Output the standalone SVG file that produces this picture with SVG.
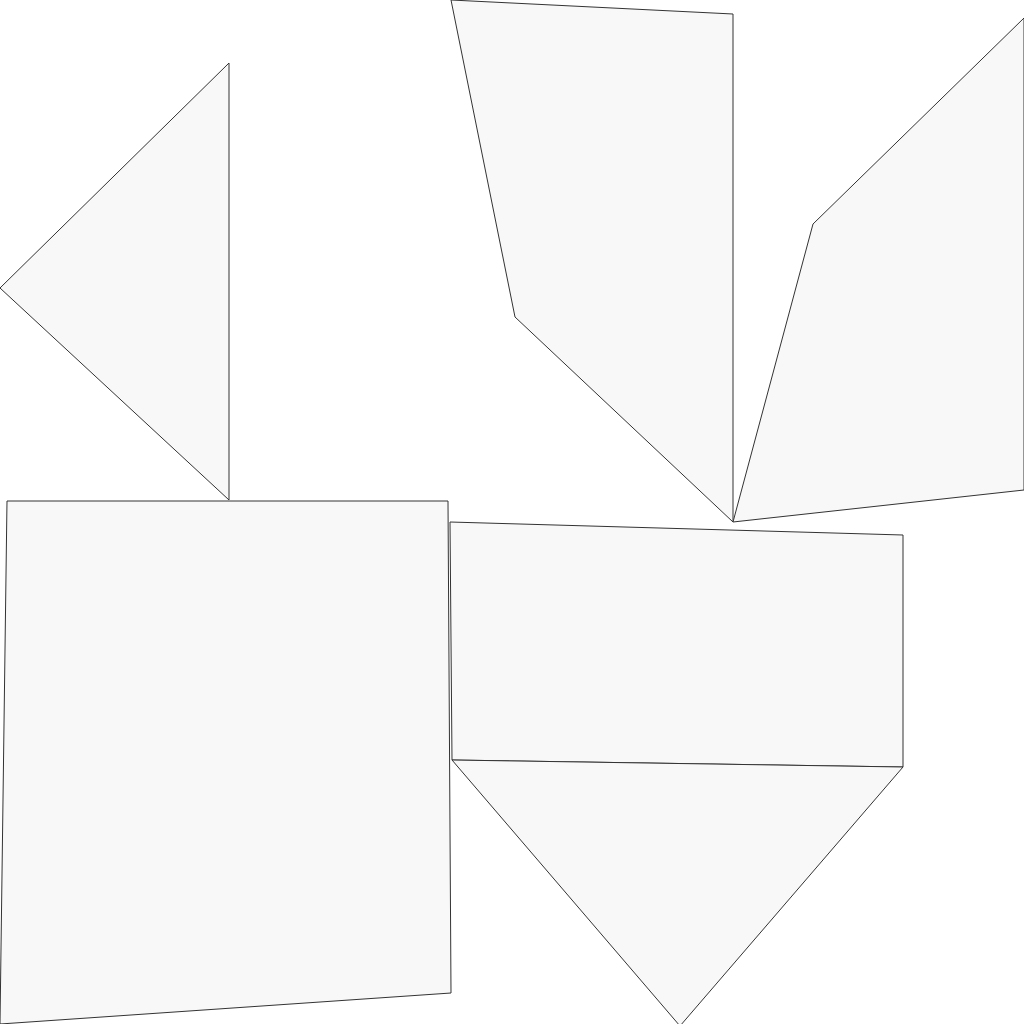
<svg xmlns="http://www.w3.org/2000/svg" width="1024" height="1024" viewBox="0 0 1024 1024">
<style>
.p{fill:#f8f8f8;stroke:#333;stroke-width:1;stroke-linejoin:round}
</style>
<rect width="1024" height="1024" fill="#fff"/>
<g id="tri-left"><polygon class="p" points="229,63 0,288 229,500"/></g>
<g id="quad-top"><polygon class="p" points="451,0 733,14 733,522 515,317"/></g>
<g id="quad-right"><polygon class="p" points="1024,18 813,224 733,522 1024,490"/></g>
<g id="quad-big"><polygon class="p" points="7,501 448,501 451,993 0,1024"/></g>
<g id="rect-mid"><polygon class="p" points="450,522 903,535 903,767 452,760"/></g>
<g id="tri-bottom"><polygon class="p" points="452,760 903,767 680,1026"/></g>
</svg>
